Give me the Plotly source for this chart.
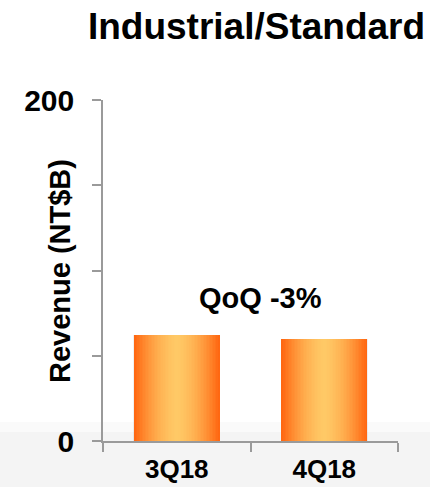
import plotly.graph_objects as go

# Revenue by quarter (NT$ billions)
quarters = ["3Q18", "4Q18"]
revenue = [62, 60]
qoq_label = "QoQ -3%"

y_tick_vals = [0, 50, 100, 150, 200]
y_tick_text = ["0", "", "", "", "200"]

# Horizontal gradient for the bars: edge colour -> centre colour
EDGE = (255, 104, 18)
CENTRE = (255, 201, 102)
N_LAYERS = 28
BAR_WIDTH = 0.58

FONT = "Liberation Sans, Arial, sans-serif"
AXIS_GREY = "#9a9a9a"

fig = go.Figure()

# soft shadow behind each bar
fig.add_trace(go.Bar(
    x=quarters, y=revenue, width=BAR_WIDTH + 0.012,
    marker=dict(color="rgba(0,0,0,0.06)", line=dict(width=0)),
    hoverinfo="skip", showlegend=False,
))

# layers of shrinking width drawn on top of each other build the symmetric gradient
for i in range(N_LAYERS):
    t = 1 - i / N_LAYERS          # 1 at the edge, ->0 towards the centre
    f = t ** 1.6
    rgb = tuple(round(c + (e - c) * f) for e, c in zip(EDGE, CENTRE))
    fig.add_trace(go.Bar(
        x=quarters, y=revenue, width=BAR_WIDTH * t,
        marker=dict(color="rgb(%d,%d,%d)" % rgb, line=dict(width=0)),
        hoverinfo="skip", showlegend=False,
    ))

fig.update_layout(
    width=430, height=487,
    margin=dict(l=103, r=32, t=100, b=46, autoexpand=False),
    barmode="overlay",
    bargap=0,
    paper_bgcolor="white",
    plot_bgcolor="white",
    font=dict(family=FONT, color="black"),
    title=dict(
        text="Industrial/Standard",
        font=dict(family=FONT, size=37, weight="bold", color="black"),
        x=256.5 / 430, xanchor="center", xref="container",
        y=1 - 26 / 487, yanchor="middle", yref="container",
    ),
    xaxis=dict(
        type="category",
        range=[-0.5, 1.5],
        automargin=False,
        showline=True, linecolor=AXIS_GREY, linewidth=1.5,
        ticks="outside", tickson="boundaries", ticklen=9,
        tickcolor=AXIS_GREY, tickwidth=1.5,
        ticklabelstandoff=4,
        tickfont=dict(family=FONT, size=26, weight="bold", color="black"),
        showgrid=False, zeroline=False,
    ),
    yaxis=dict(
        range=[0, 200],
        automargin=False,
        tickvals=y_tick_vals, ticktext=y_tick_text,
        showline=True, linecolor=AXIS_GREY, linewidth=1.5,
        ticks="outside", ticklen=9, tickcolor=AXIS_GREY, tickwidth=1.5,
        ticklabelstandoff=12,
        tickfont=dict(family=FONT, size=30, weight="bold", color="black"),
        showgrid=False, zeroline=False,
    ),
    shapes=[
        # faint grey band along the bottom of the slide
        dict(type="rect", xref="paper", yref="paper", layer="below",
             x0=-0.36, x1=1.12, y0=-0.14, y1=(441 - 422) / 341,
             fillcolor="#fafafa", line=dict(width=0)),
        dict(type="rect", xref="paper", yref="paper", layer="below",
             x0=-0.36, x1=1.12, y0=-0.14, y1=(441 - 432) / 341,
             fillcolor="#f4f4f4", line=dict(width=0)),
    ],
    annotations=[
        dict(text="Revenue (NT$B)", textangle=-90,
             xref="paper", yref="paper", x=(60 - 103) / 295, y=0.4985,
             xanchor="center", yanchor="middle", showarrow=False,
             font=dict(family=FONT, size=29, weight="bold", color="black")),
        dict(text=qoq_label, xref="x", yref="y", x=0.5, y=84, xshift=10,
             xanchor="center", yanchor="middle", showarrow=False,
             font=dict(family=FONT, size=29, weight="bold", color="black")),
    ],
)

fig.write_html("out.html")
